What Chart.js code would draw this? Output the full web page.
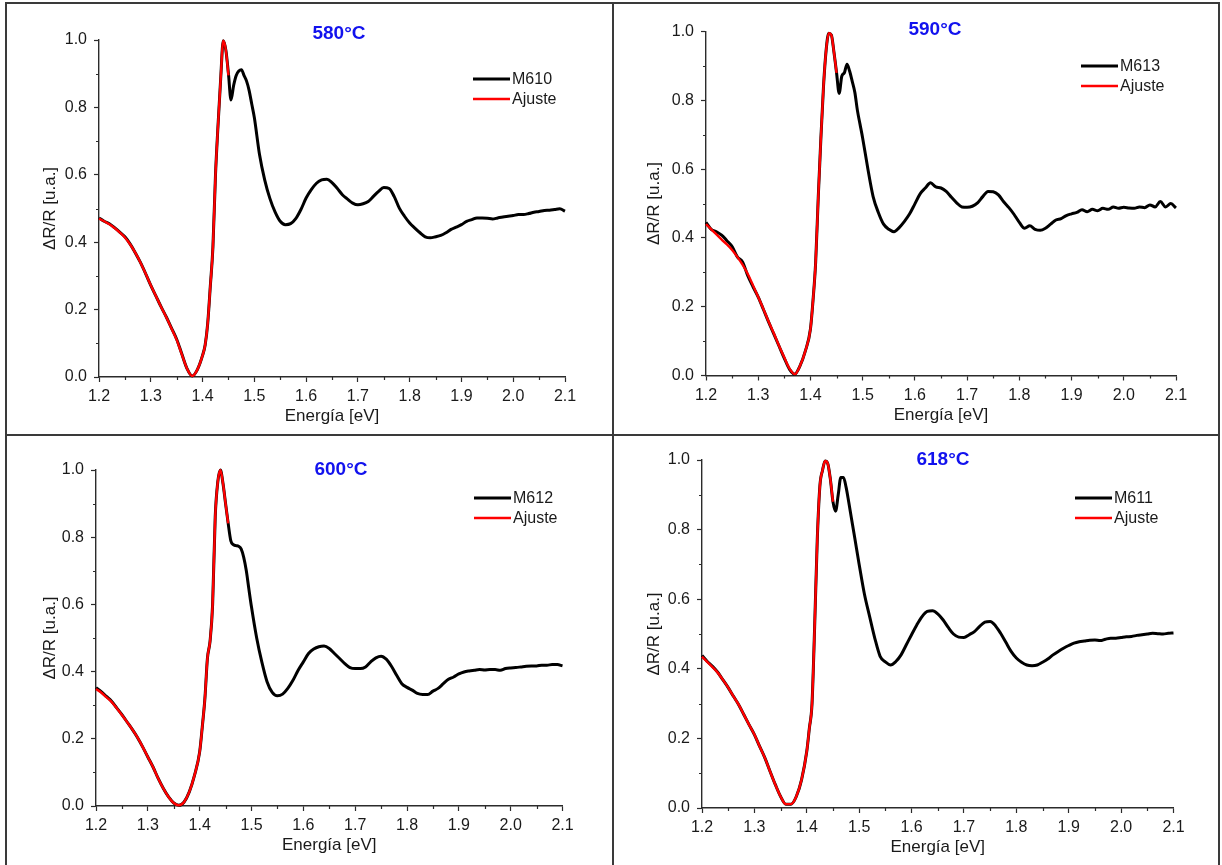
<!DOCTYPE html>
<html lang="es">
<head>
<meta charset="utf-8">
<title>Espectros de fotorreflectancia</title>
<script src="https://cdn.jsdelivr.net/npm/chart.js@4.4.1/dist/chart.umd.min.js"></script>
<style>
    body { margin: 0; background: #fff; width: 1222px; height: 865px; overflow: hidden; position: relative; }
    .marco { position: absolute; left: 5px; top: 2px; width: 1215px; height: 900px; border: 2px solid #3a3a3a; box-sizing: border-box; }
    .linea-v { position: absolute; left: 612px; top: 2px; width: 2px; height: 900px; background: #3a3a3a; }
    .linea-h { position: absolute; left: 5px; top: 434px; width: 1215px; height: 2px; background: #3a3a3a; }
    canvas { position: absolute; }
</style>
</head>
<body>
<div class="marco"></div>
<div class="linea-v"></div>
<div class="linea-h"></div>
<canvas id="g580" width="605" height="430" style="left:7px;top:4px"></canvas>
<canvas id="g590" width="604" height="430" style="left:615px;top:4px"></canvas>
<canvas id="g600" width="605" height="428" style="left:7px;top:437px"></canvas>
<canvas id="g618" width="604" height="428" style="left:615px;top:437px"></canvas>
<script>
// eje de energia (eV), con mas puntos en la zona del pico
const energia = [
    1.20, 1.21, 1.22, 1.23, 1.24, 1.25, 1.26, 1.27, 1.28, 1.29,
    1.30, 1.31, 1.32, 1.33, 1.34, 1.35, 1.36, 1.37, 1.38, 1.39,
    1.40, 1.405, 1.41, 1.415, 1.42, 1.425, 1.43, 1.435, 1.44, 1.445,
    1.45, 1.455, 1.46, 1.465, 1.47, 1.475, 1.48, 1.485, 1.49, 1.495,
    1.50, 1.51, 1.52, 1.53, 1.54, 1.55, 1.56, 1.57, 1.58, 1.59,
    1.60, 1.61, 1.62, 1.63, 1.64, 1.65, 1.66, 1.67, 1.68, 1.69,
    1.70, 1.71, 1.72, 1.73, 1.74, 1.75, 1.76, 1.77, 1.78, 1.79,
    1.80, 1.81, 1.82, 1.83, 1.84, 1.85, 1.86, 1.87, 1.88, 1.89,
    1.90, 1.91, 1.92, 1.93, 1.94, 1.95, 1.96, 1.97, 1.98, 1.99,
    2.00, 2.01, 2.02, 2.03, 2.04, 2.05, 2.06, 2.07, 2.08, 2.09,
    2.10
];

// marcas menores de los ejes
const menoresX = [1.25, 1.35, 1.45, 1.55, 1.65, 1.75, 1.85, 1.95, 2.05];
const menoresY = [0.1, 0.3, 0.5, 0.7, 0.9];

// muestra M610 - 580 ºC
const m610 = [
    0.472, 0.462, 0.455, 0.443, 0.430, 0.416, 0.395, 0.369, 0.340, 0.307,
    0.272, 0.240, 0.208, 0.178, 0.145, 0.112, 0.068, 0.025, 0.003, 0.022,
    0.064, 0.095, 0.160, 0.270, 0.385, 0.600, 0.750, 0.885, 0.998, 0.970,
    0.900, 0.822, 0.865, 0.895, 0.908, 0.912, 0.895, 0.878, 0.850, 0.810,
    0.770, 0.660, 0.585, 0.530, 0.490, 0.462, 0.452, 0.455, 0.470, 0.497,
    0.531, 0.556, 0.575, 0.585, 0.587, 0.577, 0.560, 0.541, 0.528, 0.516,
    0.511, 0.514, 0.521, 0.536, 0.551, 0.562, 0.560, 0.536, 0.501, 0.477,
    0.457, 0.442, 0.428, 0.416, 0.413, 0.416, 0.420, 0.428, 0.438, 0.445,
    0.452, 0.462, 0.467, 0.472, 0.472, 0.471, 0.469, 0.472, 0.475, 0.477,
    0.479, 0.482, 0.482, 0.485, 0.489, 0.491, 0.494, 0.495, 0.497, 0.499,
    0.492
];
const ajuste580 = [
    0.470, 0.462, 0.453, 0.442, 0.429, 0.414, 0.394, 0.369, 0.340, 0.307,
    0.272, 0.240, 0.208, 0.177, 0.144, 0.110, 0.067, 0.025, 0.003, 0.022,
    0.064, 0.095, 0.160, 0.270, 0.385, 0.600, 0.750, 0.885, 0.998, 0.970,
    0.895
];

// muestra M613 - 590 ºC
const m613 = [
    0.445, 0.425, 0.418, 0.408, 0.392, 0.375, 0.345, 0.330, 0.290, 0.258,
    0.228, 0.192, 0.155, 0.120, 0.085, 0.050, 0.018, 0.004, 0.028, 0.070,
    0.135, 0.220, 0.330, 0.520, 0.690, 0.840, 0.945, 0.995, 0.990, 0.940,
    0.880, 0.820, 0.870, 0.880, 0.905, 0.885, 0.855, 0.823, 0.770, 0.730,
    0.690, 0.600, 0.520, 0.474, 0.440, 0.425, 0.418, 0.430, 0.448, 0.470,
    0.499, 0.528, 0.545, 0.560, 0.548, 0.545, 0.535, 0.518, 0.502, 0.490,
    0.489, 0.492, 0.502, 0.520, 0.535, 0.534, 0.525, 0.505, 0.488, 0.468,
    0.445, 0.428, 0.435, 0.425, 0.422, 0.428, 0.440, 0.452, 0.456, 0.465,
    0.470, 0.474, 0.482, 0.476, 0.483, 0.479, 0.486, 0.483, 0.490, 0.486,
    0.489, 0.487, 0.486, 0.490, 0.488, 0.496, 0.490, 0.506, 0.490, 0.500,
    0.487
];
const ajuste590 = [
    0.440, 0.425, 0.410, 0.395, 0.381, 0.365, 0.345, 0.322, 0.295, 0.262,
    0.228, 0.193, 0.156, 0.122, 0.086, 0.052, 0.020, 0.004, 0.028, 0.070,
    0.135, 0.220, 0.330, 0.520, 0.690, 0.840, 0.945, 0.995, 0.990, 0.940,
    0.880
];

// muestra M612 - 600 ºC
const m612 = [
    0.352, 0.340, 0.326, 0.312, 0.292, 0.272, 0.250, 0.228, 0.204, 0.176,
    0.146, 0.116, 0.082, 0.052, 0.027, 0.009, 0.002, 0.012, 0.042, 0.091,
    0.161, 0.235, 0.318, 0.440, 0.490, 0.600, 0.860, 0.965, 1.000, 0.960,
    0.900, 0.841, 0.790, 0.778, 0.775, 0.773, 0.765, 0.740, 0.700, 0.645,
    0.592, 0.500, 0.428, 0.370, 0.338, 0.328, 0.333, 0.350, 0.374, 0.404,
    0.429, 0.454, 0.467, 0.474, 0.476, 0.469, 0.454, 0.439, 0.424, 0.412,
    0.409, 0.409, 0.414, 0.429, 0.441, 0.446, 0.437, 0.416, 0.389, 0.364,
    0.353, 0.345, 0.335, 0.332, 0.332, 0.342, 0.350, 0.364, 0.377, 0.384,
    0.393, 0.399, 0.402, 0.404, 0.406, 0.405, 0.406, 0.406, 0.404, 0.409,
    0.411, 0.412, 0.414, 0.416, 0.417, 0.417, 0.419, 0.419, 0.421, 0.421,
    0.417
];
const ajuste600 = [
    0.348, 0.338, 0.324, 0.310, 0.291, 0.271, 0.250, 0.228, 0.204, 0.176,
    0.146, 0.116, 0.082, 0.052, 0.027, 0.009, 0.002, 0.012, 0.042, 0.091,
    0.161, 0.235, 0.318, 0.440, 0.490, 0.600, 0.860, 0.965, 1.000, 0.960,
    0.900, 0.841
];

// muestra M611 - 618 ºC
const m611 = [
    0.438, 0.421, 0.407, 0.390, 0.368, 0.346, 0.321, 0.297, 0.268, 0.239,
    0.211, 0.177, 0.144, 0.105, 0.067, 0.033, 0.011, 0.011, 0.033, 0.081,
    0.163, 0.230, 0.300, 0.520, 0.770, 0.925, 0.970, 0.997, 0.990, 0.945,
    0.880, 0.853, 0.900, 0.950, 0.950, 0.922, 0.880, 0.835, 0.790, 0.745,
    0.700, 0.615, 0.550, 0.487, 0.436, 0.420, 0.411, 0.421, 0.440, 0.469,
    0.498, 0.526, 0.550, 0.565, 0.567, 0.558, 0.541, 0.519, 0.500, 0.491,
    0.490, 0.498, 0.507, 0.522, 0.534, 0.536, 0.524, 0.502, 0.476, 0.450,
    0.431, 0.419, 0.411, 0.409, 0.411, 0.419, 0.428, 0.440, 0.450, 0.459,
    0.467, 0.474, 0.478, 0.480, 0.482, 0.483, 0.481, 0.485, 0.488, 0.488,
    0.490, 0.492, 0.493, 0.496, 0.498, 0.500, 0.502, 0.501, 0.500, 0.502,
    0.503
];
const ajuste618 = [
    0.435, 0.420, 0.405, 0.389, 0.368, 0.346, 0.321, 0.297, 0.268, 0.239,
    0.211, 0.177, 0.144, 0.105, 0.067, 0.033, 0.011, 0.011, 0.033, 0.081,
    0.163, 0.230, 0.300, 0.520, 0.770, 0.925, 0.970, 0.997, 0.990, 0.945,
    0.880
];

const fuente = 'Arial, "Liberation Sans", sans-serif';
const colorEje = '#2b2b2b';
const colorTexto = '#1a1a1a';

function puntos(valores) {
    return valores.map(function(v, i) {
        return { x: energia[i], y: v };
    });
}

// marcas cortas entre las etiquetas
const marcasMenores = {
    id: 'marcasMenores',
    afterDraw(chart) {
        const ctx = chart.ctx;
        const area = chart.chartArea;
        const ejeX = chart.scales.x;
        const ejeY = chart.scales.y;
        ctx.save();
        ctx.strokeStyle = colorEje;
        ctx.lineWidth = 1.2;
        ctx.beginPath();
        menoresX.forEach(function(v) {
            const px = Math.round(ejeX.getPixelForValue(v)) + 0.5;
            ctx.moveTo(px, area.bottom);
            ctx.lineTo(px, area.bottom + 3);
        });
        menoresY.forEach(function(v) {
            const py = Math.round(ejeY.getPixelForValue(v)) + 0.5;
            ctx.moveTo(area.left, py);
            ctx.lineTo(area.left - 3, py);
        });
        ctx.stroke();
        ctx.restore();
    }
};

// temperatura arriba y leyenda a la derecha, dentro del area
const rotulos = {
    id: 'rotulos',
    afterDraw(chart, args, opts) {
        const ctx = chart.ctx;
        ctx.save();
        ctx.font = 'bold 19px ' + fuente;
        ctx.fillStyle = '#1212ee';
        ctx.textAlign = 'center';
        ctx.textBaseline = 'middle';
        ctx.fillText(opts.texto, opts.tituloX, opts.tituloY);

        ctx.font = '16px ' + fuente;
        ctx.textAlign = 'left';
        chart.data.datasets.forEach(function(ds, i) {
            const yy = opts.leyendaY + i * 20;
            ctx.strokeStyle = ds.borderColor;
            ctx.lineWidth = ds.borderWidth;
            ctx.beginPath();
            ctx.moveTo(opts.leyendaX, yy);
            ctx.lineTo(opts.leyendaX + 37, yy);
            ctx.stroke();
            ctx.fillStyle = colorTexto;
            ctx.fillText(ds.label, opts.leyendaX + 39, yy + 1);
        });
        ctx.restore();
    }
};

function crearGrafica(id, temperatura, muestra, medida, ajuste, caja) {
    const lienzo = document.getElementById(id);
    return new Chart(lienzo, {
        type: 'line',
        data: {
            datasets: [{
                label: muestra,
                data: puntos(medida),
                borderColor: '#000000',
                borderWidth: 3,
                pointRadius: 0,
                cubicInterpolationMode: 'monotone',
                clip: false,
                order: 1
            }, {
                label: 'Ajuste',
                data: puntos(ajuste),
                borderColor: '#ff0000',
                borderWidth: 2.4,
                pointRadius: 0,
                cubicInterpolationMode: 'monotone',
                clip: false,
                order: 0
            }]
        },
        options: {
            responsive: false,
            animation: false,
            events: [],
            layout: {
                padding: { left: caja.izq - caja.anchoY, right: caja.der, top: caja.arriba, bottom: caja.abajo }
            },
            scales: {
                x: {
                    type: 'linear',
                    min: 1.2,
                    max: 2.1,
                    ticks: {
                        stepSize: 0.1,
                        autoSkip: false,
                        maxRotation: 0,
                        padding: 5,
                        color: colorTexto,
                        font: { family: fuente, size: 16 },
                        callback: function(v) { return v.toFixed(1); }
                    },
                    grid: { drawOnChartArea: false, tickLength: 5, tickColor: colorEje, tickWidth: 1.2 },
                    border: { color: colorEje, width: 1.4 },
                    title: {
                        display: true,
                        text: 'Energía [eV]',
                        color: colorTexto,
                        font: { family: fuente, size: 17 },
                        padding: 0
                    },
                    afterFit: function(eje) { eje.height = 50; }
                },
                y: {
                    type: 'linear',
                    min: 0,
                    max: 1,
                    ticks: {
                        stepSize: 0.2,
                        padding: 7,
                        color: colorTexto,
                        font: { family: fuente, size: 16 },
                        callback: function(v) { return v.toFixed(1); }
                    },
                    grid: { drawOnChartArea: false, tickLength: 5, tickColor: colorEje, tickWidth: 1.2 },
                    border: { color: colorEje, width: 1.4 },
                    title: {
                        display: true,
                        text: 'ΔR/R [u.a.]',
                        color: colorTexto,
                        font: { family: fuente, size: 17 },
                        padding: 0
                    },
                    afterFit: function(eje) { eje.width = caja.anchoY; }
                }
            },
            plugins: {
                legend: { display: false },
                tooltip: { enabled: false },
                rotulos: {
                    texto: temperatura,
                    tituloX: caja.tituloX,
                    tituloY: caja.tituloY,
                    leyendaX: caja.leyendaX,
                    leyendaY: caja.leyendaY
                }
            }
        },
        plugins: [marcasMenores, rotulos]
    });
}

crearGrafica('g580', '580°C', 'M610', m610, ajuste580,
    { izq: 92, anchoY: 59, der: 47, arriba: 36, abajo: 7, tituloX: 332, tituloY: 30, leyendaX: 466, leyendaY: 75 });
crearGrafica('g590', '590°C', 'M613', m613, ajuste590,
    { izq: 91, anchoY: 62, der: 43, arriba: 27.5, abajo: 8.5, tituloX: 320, tituloY: 26, leyendaX: 466, leyendaY: 62 });
crearGrafica('g600', '600°C', 'M612', m612, ajuste600,
    { izq: 89, anchoY: 56, der: 49.5, arriba: 33, abajo: 9, tituloX: 334, tituloY: 33, leyendaX: 467, leyendaY: 61 });
crearGrafica('g618', '618°C', 'M611', m611, ajuste618,
    { izq: 87, anchoY: 57.5, der: 45.5, arriba: 23, abajo: 7, tituloX: 328, tituloY: 23, leyendaX: 460, leyendaY: 61 });
</script>
</body>
</html>
